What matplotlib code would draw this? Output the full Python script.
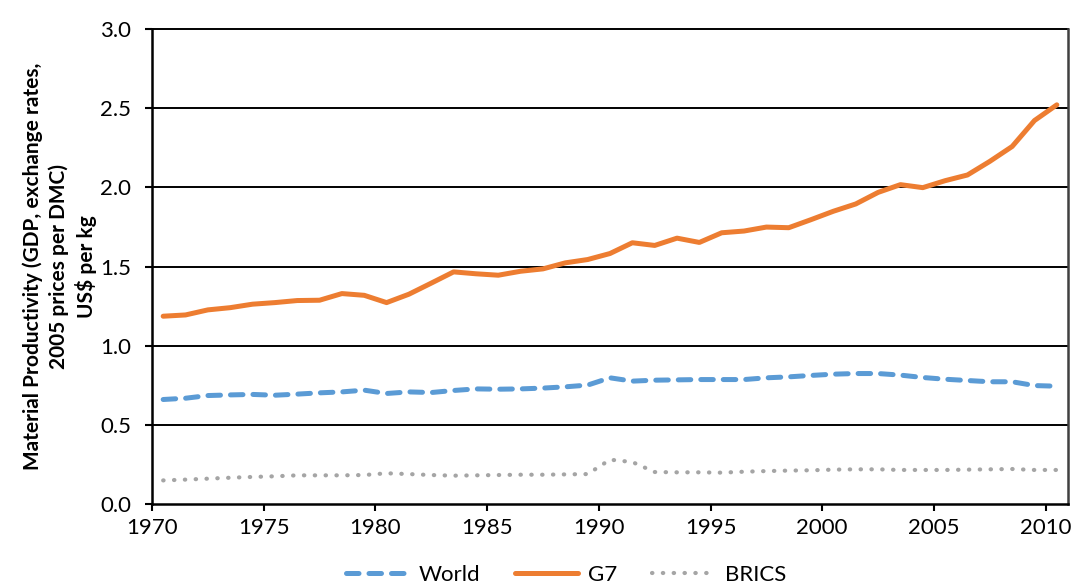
import matplotlib
matplotlib.use("Agg")
import matplotlib.pyplot as plt
import numpy as np

years = list(range(1970, 2011))
g7 = [1.186, 1.194, 1.226, 1.240, 1.262, 1.272, 1.285, 1.287, 1.329, 1.318,
      1.272, 1.325, 1.395, 1.466, 1.454, 1.445, 1.470, 1.485, 1.523, 1.544,
      1.582, 1.650, 1.633, 1.679, 1.652, 1.713, 1.724, 1.749, 1.745, 1.796,
      1.849, 1.895, 1.968, 2.017, 1.998, 2.042, 2.078, 2.164, 2.258, 2.422,
      2.521]
world = [0.660, 0.668, 0.685, 0.689, 0.692, 0.687, 0.694, 0.702, 0.708, 0.719,
         0.698, 0.708, 0.704, 0.717, 0.727, 0.725, 0.727, 0.732, 0.740, 0.751,
         0.797, 0.776, 0.782, 0.784, 0.786, 0.786, 0.786, 0.797, 0.803, 0.812,
         0.820, 0.824, 0.824, 0.814, 0.799, 0.788, 0.780, 0.772, 0.772, 0.748,
         0.744]
brics = [0.149, 0.154, 0.160, 0.166, 0.171, 0.175, 0.181, 0.181, 0.181, 0.183,
         0.194, 0.189, 0.183, 0.179, 0.181, 0.183, 0.185, 0.185, 0.187, 0.189,
         0.280, 0.265, 0.202, 0.200, 0.200, 0.198, 0.204, 0.208, 0.211, 0.213,
         0.217, 0.219, 0.219, 0.215, 0.215, 0.215, 0.217, 0.219, 0.221, 0.215,
         0.215]
tick_years = list(range(1970, 2011, 5))
y_ticks = [0.0, 0.5, 1.0, 1.5, 2.0, 2.5, 3.0]
ylabel = "Material Productivity (GDP, exchange rates,\n2005 prices per DMC)\nUS$ per kg"

plt.rcParams['font.family'] = ['Lato', 'DejaVu Sans']

fig = plt.figure(figsize=(10.74, 5.85), dpi=100)
ax = fig.add_axes([152/1074, 1-504/585, (1068-152)/1074, (504-29)/585])

x = np.array(years) + 0.5
ax.plot(x, world, color='#5B9BD5', lw=3.6, dashes=(2.5, 2.0),
        dash_capstyle='round', label='World', zorder=3)
ax.plot(x, g7, color='#ED7D31', lw=3.6, solid_capstyle='round',
        solid_joinstyle='round', label='G7', zorder=3)
ax.plot(x, brics, color='#A5A5A5', lw=3.0, dashes=(0.1, 2.5),
        dash_capstyle='round', label='BRICS', zorder=3)

ax.set_xlim(1970, 2011)
ax.set_ylim(0, 3.0)
ax.set_xticks(tick_years)
ax.set_xticklabels([str(t) for t in tick_years])
ax.set_yticks(y_ticks)
ax.set_yticklabels([f"{v:.1f}" for v in y_ticks])
for v in y_ticks[1:]:
    ax.axhline(v, color='black', lw=1.4, zorder=1, clip_on=False)

for s in ['left', 'bottom']:
    ax.spines[s].set_color('black')
    ax.spines[s].set_linewidth(1.8)
ax.spines['top'].set_visible(False)
ax.spines['right'].set_color('#404040')
ax.spines['right'].set_linewidth(1.8)

ax.tick_params(axis='both', direction='out', length=5, width=1.5,
               labelsize=16, colors='black')
ax.tick_params(axis='x', pad=5)
ax.tick_params(axis='y', pad=10)
ax.tick_params(axis='y', which='both', right=False)

ax.set_ylabel(ylabel, fontsize=15, fontweight='bold', linespacing=1.35,
              labelpad=2, ha='center')

leg = fig.legend(loc='center', bbox_to_anchor=(566/1074, 1-575/585), ncol=3,
                 frameon=False, fontsize=16, handlelength=2.8,
                 columnspacing=1.6, handletextpad=0.45, borderpad=0.0,
                 borderaxespad=0.0)

fig.savefig("out.png", dpi=100)
